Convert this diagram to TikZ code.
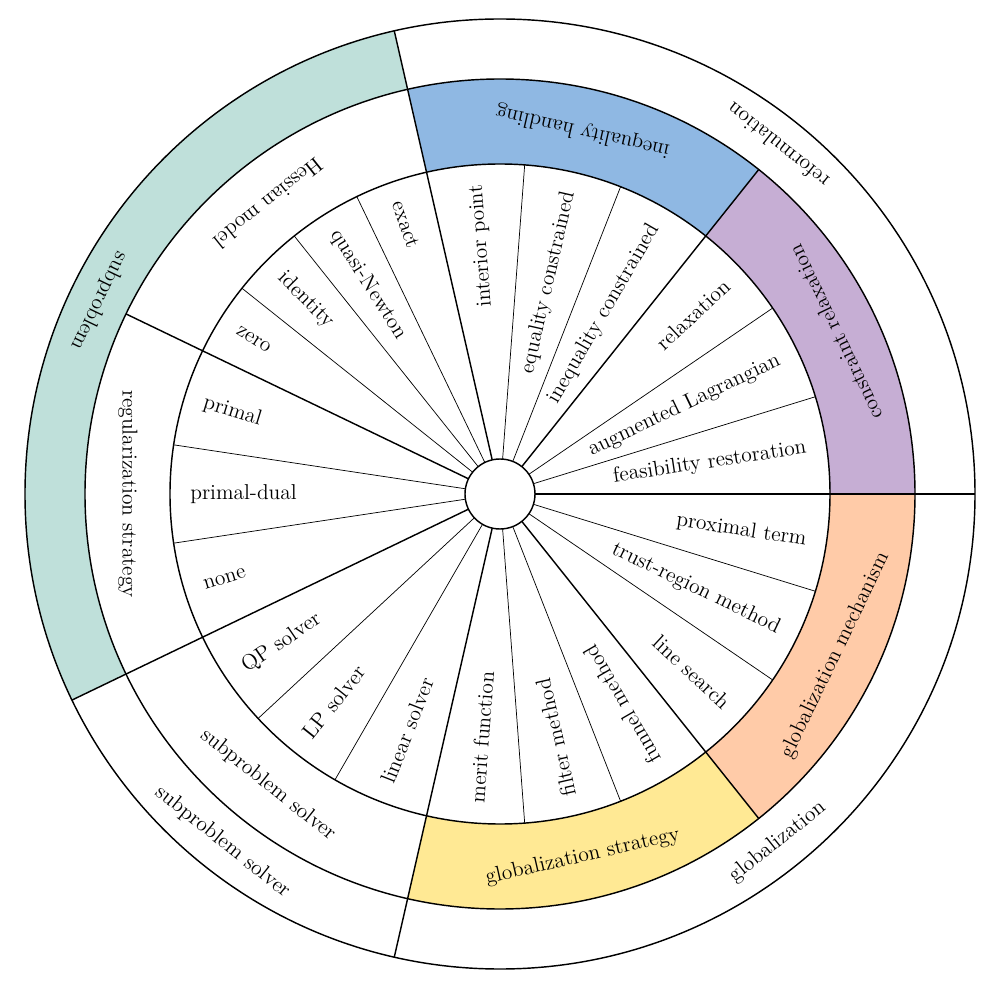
\documentclass[tikz,border=0pt]{standalone}
\definecolor{ineqblue}{HTML}{8FB8E3}
\definecolor{relaxpurple}{HTML}{C6AED4}
\definecolor{mechorange}{HTML}{FFCBA8}
\definecolor{stratyellow}{HTML}{FFE994}
\definecolor{subteal}{HTML}{BFE0DA}
\newcommand{\ringsector}[5]{%
  \fill[#5] (#1:#3) arc[start angle=#1,end angle=#2,radius=#3] -- (#2:#4)
    arc[start angle=#2,end angle=#1,radius=#4] -- cycle;}
\begin{document}
\begin{tikzpicture}[x=0.0196cm,y=0.0196cm,line width=.8pt,font=\large,
    thin line/.style={line width=.4pt},
    item/.style={inner sep=2pt}]

      \useasboundingbox (-500,-506) rectangle (480,494);

      % coloured rings
      \ringsector{0}{51.43}{330}{415}{relaxpurple}
      \ringsector{51.43}{102.86}{330}{415}{ineqblue}
      \ringsector{257.14}{308.57}{330}{415}{stratyellow}
      \ringsector{308.57}{360}{330}{415}{mechorange}
      \ringsector{102.86}{205.71}{415}{475}{subteal}

      % thin item lines
      \foreach \a in {17.14,34.29,68.57,85.71,115.71,128.57,141.43,171.43,188.57,
                      222.86,240,274.29,291.43,325.71,342.86}
        \draw[thin line] (\a:35) -- (\a:330);

      % group lines
      \foreach \a in {0,51.43,102.86,154.29,205.71,257.14,308.57}
        \draw (\a:35) -- (\a:415);
      \foreach \a in {0,102.86,205.71,257.14}
        \draw (\a:415) -- (\a:475);

      \draw (0,0) circle(35);
      \draw (0,0) circle(330);
      \draw (0,0) circle(415);
      \draw (0,0) circle(475);

      % inner items
      \foreach \a/\t in {8.57/feasibility restoration,25.71/augmented Lagrangian,
                         42.86/relaxation,60/inequality constrained,
                         77.14/equality constrained,94.29/interior point,
                         317.14/line search,
                         334.29/trust-region method,351.43/proximal term}
        \node[item,anchor=east,rotate=\a] at (\a:314) {\t};
      \foreach \a/\t in {109.29/exact,122.14/quasi-Newton,135/identity,147.86/zero,
                         162.86/primal,180/primal-dual,197.14/none,
                         214.29/QP solver,231.43/LP solver,248.57/linear solver,
                         265.71/merit function,282.86/filter method,300/funnel method}
        \node[item,anchor=west,rotate=\a-180] at (\a:314) {\t};

      % middle ring
      \foreach \a/\t in {25.71/constraint relaxation,77.14/inequality handling,
                         128.57/Hessian model,180/regularization strategy,
                         231.43/subproblem solver,282.86/globalization strategy,
                         334.29/globalization mechanism}
        \node[rotate=\a+90] at (\a:372) {\t};

      % outer ring
      \foreach \a/\t in {51.43/reformulation,154.29/subproblem,
                         231.43/subproblem solver,308.57/globalization}
        \node[rotate=\a+90] at (\a:445) {\t};

    \end{tikzpicture}
\end{document}
